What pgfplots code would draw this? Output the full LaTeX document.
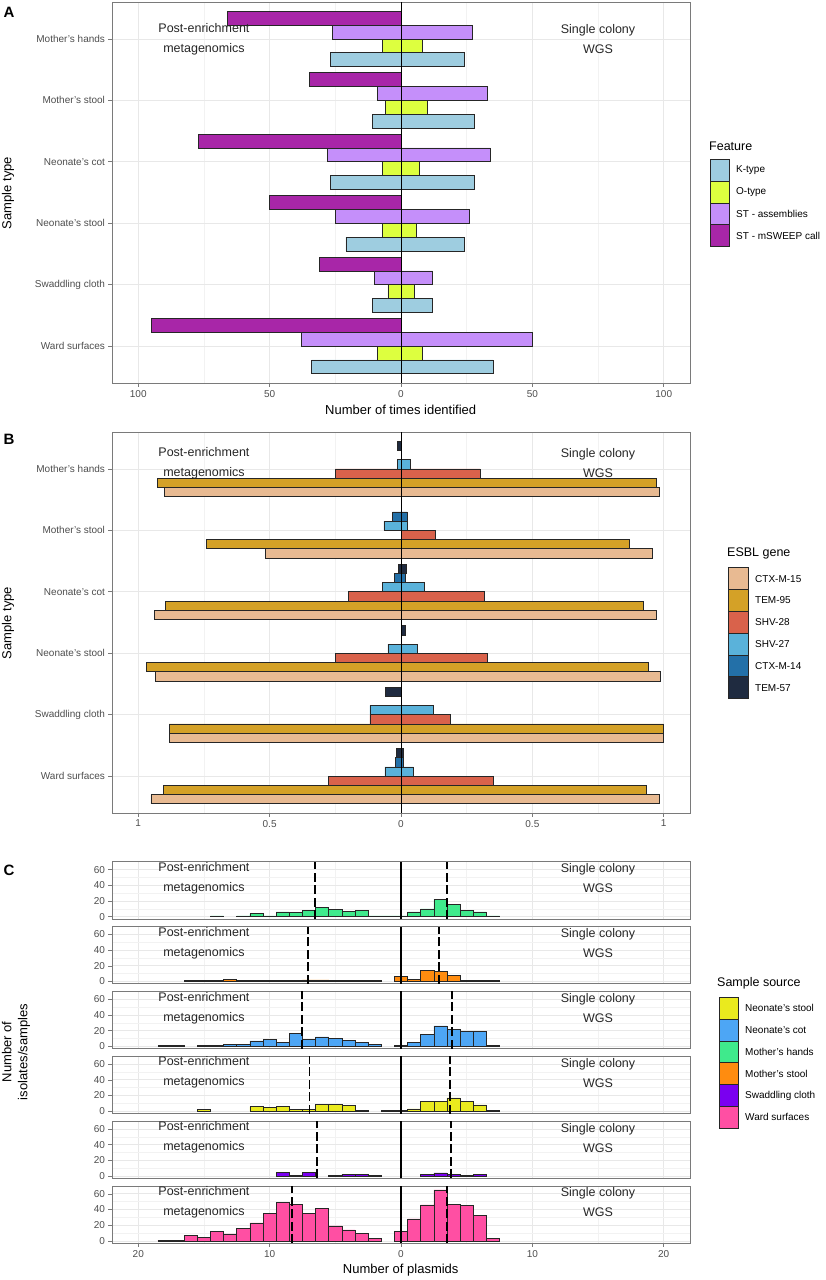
\documentclass[border=0pt]{standalone}
\usepackage{fontspec}
\setmainfont{Liberation Sans}
\usepackage{pgfplots}
\pgfplotsset{compat=1.18}

\definecolor{ktype}{HTML}{9ECDE0}
\definecolor{otype}{HTML}{DDFF3F}
\definecolor{stass}{HTML}{C58FFA}
\definecolor{stmsw}{HTML}{A826A8}
\definecolor{ctx15}{HTML}{E8BA92}
\definecolor{tem95}{HTML}{D4A127}
\definecolor{shv28}{HTML}{D9624B}
\definecolor{shv27}{HTML}{5AB2DA}
\definecolor{ctx14}{HTML}{2370A8}
\definecolor{tem57}{HTML}{1F2B40}
\definecolor{cNS}{HTML}{EAEA1E}
\definecolor{cNC}{HTML}{4DA6F5}
\definecolor{cMH}{HTML}{3FEA8C}
\definecolor{cMS}{HTML}{FF8C0F}
\definecolor{cSC}{HTML}{7A00F0}
\definecolor{cWS}{HTML}{FF4FA3}
\definecolor{frame}{HTML}{7A7A7A}
\definecolor{tickcol}{HTML}{4D4D4D}

\tikzset{annot/.style={font=\fontsize{12.5}{20}\selectfont, align=center, text=black!85, inner sep=0pt}}

\pgfplotsset{
  base/.style={
    scale only axis, anchor=south west, width=578pt,
    axis line style={draw=frame, line width=0.8pt},
    every tick/.style={draw=frame, line width=0.6pt},
    tick align=outside, major tick length=3.5pt, minor tick length=0pt,
    tick pos=left,
    major grid style={draw=black!9, line width=0.7pt},
    minor grid style={draw=black!5, line width=0.5pt},
    ticklabel style={font=\fontsize{10}{12}\selectfont, text=tickcol},
  },
  hb/.style={xbar, bar width=0.225, draw=black!85, line width=0.6pt},
  hbb/.style={xbar, bar width=0.15, draw=black!85, line width=0.6pt},
  hist/.style={ybar, bar width=1, bar shift=0pt, draw=black!85, line width=0.6pt},
  meanl/.style={black, line width=1.8pt, dash pattern=on 9pt off 3.5pt},
  cpanel/.style={height=57.3pt, xmin=-22, xmax=22, ymin=-3, ymax=70,
    xtick={-20,-10,0,10,20}, minor xtick={-15,-5,5,15},
    ytick={0,20,40,60}, yticklabels={0,20,40,60}, minor ytick={10,30,50},
    xmajorgrids, xminorgrids, ymajorgrids, yminorgrids},
}

\newcommand{\facet}[7]{%
  \begin{axis}[base, cpanel, at={(112pt,-#1pt)}, #7]
    \addplot[hist, fill=#2] coordinates {#3};
    \addplot[hist, fill=#2] coordinates {#4};
    \addplot[black, line width=1.4pt] coordinates {(0,-3) (0,70)};
    \addplot[meanl] coordinates {(#5,-3) (#5,70)};
    \addplot[meanl] coordinates {(#6,-3) (#6,70)};
    \node[annot] at (axis cs:-15,49) {Post-enrichment\\metagenomics};
    \node[annot] at (axis cs:15,49) {Single colony\\WGS};
  \end{axis}}

\begin{document}
\begin{tikzpicture}
\useasboundingbox (0,0) rectangle (825pt,-1280pt);

% ---------------- Panel A ----------------
\begin{axis}[base, at={(112pt,-383pt)}, height=381pt,
  xmin=-110, xmax=110, ymin=0.4, ymax=6.6,
  xtick={-100,-50,0,50,100}, xticklabels={100,50,0,50,100},
  minor xtick={-75,-25,25,75},
  ytick={1,2,3,4,5,6},
  yticklabels={Ward surfaces,Swaddling cloth,Neonate's stool,Neonate's cot,Mother's stool,Mother's hands},
  xmajorgrids, xminorgrids, ymajorgrids]
  \addplot[hb, fill=ktype, bar shift=-0.3375] coordinates {(-34,1) (-11,2) (-21,3) (-27,4) (-11,5) (-27,6)};
  \addplot[hb, fill=ktype, bar shift=-0.3375] coordinates {(35,1) (12,2) (24,3) (28,4) (28,5) (24,6)};
  \addplot[hb, fill=otype, bar shift=-0.1125] coordinates {(-9,1) (-5,2) (-7,3) (-7,4) (-6,5) (-7,6)};
  \addplot[hb, fill=otype, bar shift=-0.1125] coordinates {(8,1) (5,2) (6,3) (7,4) (10,5) (8,6)};
  \addplot[hb, fill=stass, bar shift=0.1125] coordinates {(-38,1) (-10,2) (-25,3) (-28,4) (-9,5) (-26,6)};
  \addplot[hb, fill=stass, bar shift=0.1125] coordinates {(50,1) (12,2) (26,3) (34,4) (33,5) (27,6)};
  \addplot[hb, fill=stmsw, bar shift=0.3375] coordinates {(-95,1) (-31,2) (-50,3) (-77,4) (-35,5) (-66,6)};
  \addplot[black, line width=0.8pt] coordinates {(0,0.4) (0,6.6)};
  \node[annot] at (axis cs:-75,6.0) {Post-enrichment\\metagenomics};
  \node[annot] at (axis cs:75,6.0) {Single colony\\WGS};
\end{axis}

% ---------------- Panel B ----------------
\begin{axis}[base, at={(112pt,-813pt)}, height=381pt,
  xmin=-1.1, xmax=1.1, ymin=0.4, ymax=6.6,
  xtick={-1,-0.5,0,0.5,1}, xticklabels={1,0.5,0,0.5,1},
  minor xtick={-0.75,-0.25,0.25,0.75},
  ytick={1,2,3,4,5,6},
  yticklabels={Ward surfaces,Swaddling cloth,Neonate's stool,Neonate's cot,Mother's stool,Mother's hands},
  xmajorgrids, xminorgrids, ymajorgrids]
  \node[annot] at (axis cs:-0.75,6.09) {Post-enrichment\\metagenomics};
  \node[annot] at (axis cs:0.75,6.09) {Single colony\\WGS};
  \addplot[hbb, fill=ctx15, bar shift=-0.375] coordinates {(-0.952,1) (-0.883,2) (-0.934,3) (-0.94,4) (-0.517,5) (-0.90,6)};
  \addplot[hbb, fill=ctx15, bar shift=-0.375] coordinates {(0.982,1) (1,2) (0.986,3) (0.972,4) (0.958,5) (0.985,6)};
  \addplot[hbb, fill=tem95, bar shift=-0.225] coordinates {(-0.904,1) (-0.883,2) (-0.968,3) (-0.897,4) (-0.74,5) (-0.926,6)};
  \addplot[hbb, fill=tem95, bar shift=-0.225] coordinates {(0.935,1) (1,2) (0.942,3) (0.923,4) (0.87,5) (0.97,6)};
  \addplot[hbb, fill=shv28, bar shift=-0.075] coordinates {(-0.276,1) (-0.118,2) (-0.25,3) (-0.20,4) (-0.25,6)};
  \addplot[hbb, fill=shv28, bar shift=-0.075] coordinates {(0.35,1) (0.189,2) (0.33,3) (0.316,4) (0.13,5) (0.30,6)};
  \addplot[hbb, fill=shv27, bar shift=0.075] coordinates {(-0.061,1) (-0.118,2) (-0.05,3) (-0.07,4) (-0.065,5) (-0.015,6)};
  \addplot[hbb, fill=shv27, bar shift=0.075] coordinates {(0.047,1) (0.124,2) (0.061,3) (0.089,4) (0.023,5) (0.034,6)};
  \addplot[hbb, fill=ctx14, bar shift=0.225] coordinates {(-0.022,1) (-0.025,4) (-0.032,5)};
  \addplot[hbb, fill=ctx14, bar shift=0.225] coordinates {(0.008,1) (0.018,4) (0.023,5)};
  \addplot[hbb, fill=tem57, bar shift=0.375] coordinates {(-0.016,1) (-0.06,2) (-0.009,4) (-0.015,6)};
  \addplot[hbb, fill=tem57, bar shift=0.375] coordinates {(0.008,1) (0.016,3) (0.02,4)};
  \addplot[black, line width=0.8pt] coordinates {(0,0.4) (0,6.6)};
\end{axis}

% ---------------- Panel C ----------------
\facet{919.0}{cMH}
  {(-14,1) (-12,1) (-11,4) (-10,1) (-9,6) (-8,5) (-7,8) (-6,12) (-5,9) (-4,7) (-3,8) (-2,1) (-1,1)}
  {(0,1) (1,6) (2,10) (3,22) (4,16) (5,8) (6,6) (7,1)}
  {-6.55}{3.5}{xticklabels={}, xtick style={draw=none}}
\facet{983.85}{cMS}
  {(-16,1) (-15,1) (-14,1) (-13,3) (-12,1) (-11,1) (-10,1) (-9,1) (-8,1) (-7,2) (-6,2) (-5,1) (-4,1) (-3,1) (-2,1)}
  {(0,6) (1,3) (2,14) (3,13) (4,8) (5,1) (6,1) (7,1)}
  {-7.05}{2.9}{xticklabels={}, xtick style={draw=none}}
\facet{1048.7}{cNC}
  {(-18,1) (-17,1) (-15,1) (-14,1) (-13,2) (-12,3) (-11,7) (-10,9) (-9,5) (-8,17) (-7,9) (-6,12) (-5,10) (-4,8) (-3,5) (-2,3)}
  {(0,1) (1,5) (2,15) (3,26) (4,22) (5,19) (6,19) (7,1)}
  {-7.54}{3.87}{xticklabels={}, xtick style={draw=none}}
\facet{1113.55}{cNS}
  {(-15,2) (-11,6) (-10,5) (-9,6) (-8,2) (-7,2) (-6,9) (-5,9) (-4,7) (-3,1) (-1,1)}
  {(0,1) (1,3) (2,12) (3,12) (4,17) (5,12) (6,8) (7,1)}
  {-6.96}{3.7}{xticklabels={}, xtick style={draw=none}}
\facet{1178.4}{cSC}
  {(-9,5) (-8,1) (-7,5) (-5,1) (-4,2) (-3,2) (-2,1)}
  {(2,2) (3,4) (4,2) (5,1) (6,2)}
  {-6.38}{3.8}{xticklabels={}, xtick style={draw=none}}
\facet{1243.25}{cWS}
  {(-18,1) (-17,1) (-16,7) (-15,4) (-14,12) (-13,9) (-12,16) (-11,23) (-10,35) (-9,49) (-8,47) (-7,35) (-6,41) (-5,19) (-4,14) (-3,10) (-2,3)}
  {(0,12) (1,28) (2,46) (3,65) (4,47) (5,45) (6,32) (7,3)}
  {-8.28}{3.5}{xticklabels={20,10,0,10,20}}

% ---------------- Labels ----------------
\node[font=\bfseries\fontsize{15}{17}\selectfont, anchor=center] at (9pt,-12pt) {A};
\node[font=\bfseries\fontsize{15}{17}\selectfont, anchor=center] at (9pt,-439pt) {B};
\node[font=\bfseries\fontsize{15}{17}\selectfont, anchor=center] at (9pt,-870pt) {C};

\node[rotate=90, font=\fontsize{13}{15}\selectfont] at (8pt,-193pt) {Sample type};
\node[rotate=90, font=\fontsize{13}{15}\selectfont] at (8pt,-623pt) {Sample type};
\node[rotate=90, font=\fontsize{13}{16}\selectfont, align=center] at (16pt,-1052pt) {Number of\\isolates/samples};

\node[font=\fontsize{13}{15}\selectfont] at (400.7pt,-410pt) {Number of times identified};
\node[font=\fontsize{13}{15}\selectfont] at (400.7pt,-1270pt) {Number of plasmids};

% ---------------- Legends ----------------
\node[anchor=west, font=\fontsize{12.5}{14}\selectfont, inner sep=0pt] at (709pt,-146pt) {Feature};
\foreach \c/\t [count=\i from 0] in {ktype/K-type, otype/O-type, stass/ST - assemblies, stmsw/ST - mSWEEP call} {
  \draw[fill=\c, draw=black!85, line width=0.8pt] (710pt,{-159.3pt-\i*21.8pt}) rectangle (729pt,{-181.1pt-\i*21.8pt});
  \node[anchor=west, font=\fontsize{10}{12}\selectfont, inner sep=0pt] at (736pt,{-170.2pt-\i*21.8pt}) {\t};
}

\node[anchor=west, font=\fontsize{12.5}{14}\selectfont, inner sep=0pt] at (727pt,-553pt) {ESBL gene};
\foreach \c/\t [count=\i from 0] in {ctx15/CTX-M-15, tem95/TEM-95, shv28/SHV-28, shv27/SHV-27, ctx14/CTX-M-14, tem57/TEM-57} {
  \draw[fill=\c, draw=black!85, line width=0.8pt] (728pt,{-567.7pt-\i*21.8pt}) rectangle (748pt,{-589.5pt-\i*21.8pt});
  \node[anchor=west, font=\fontsize{10}{12}\selectfont, inner sep=0pt] at (755pt,{-578.6pt-\i*21.8pt}) {\t};
}

\node[anchor=west, font=\fontsize{12.5}{14}\selectfont, inner sep=0pt] at (717pt,-983pt) {Sample source};
\foreach \c/\t [count=\i from 0] in {cNS/Neonate's stool, cNC/Neonate's cot, cMH/Mother's hands, cMS/Mother's stool, cSC/Swaddling cloth, cWS/Ward surfaces} {
  \draw[fill=\c, draw=black!85, line width=0.8pt] (719pt,{-997.3pt-\i*21.8pt}) rectangle (738pt,{-1019.1pt-\i*21.8pt});
  \node[anchor=west, font=\fontsize{10}{12}\selectfont, inner sep=0pt] at (745pt,{-1008.2pt-\i*21.8pt}) {\t};
}
\end{tikzpicture}
\end{document}
